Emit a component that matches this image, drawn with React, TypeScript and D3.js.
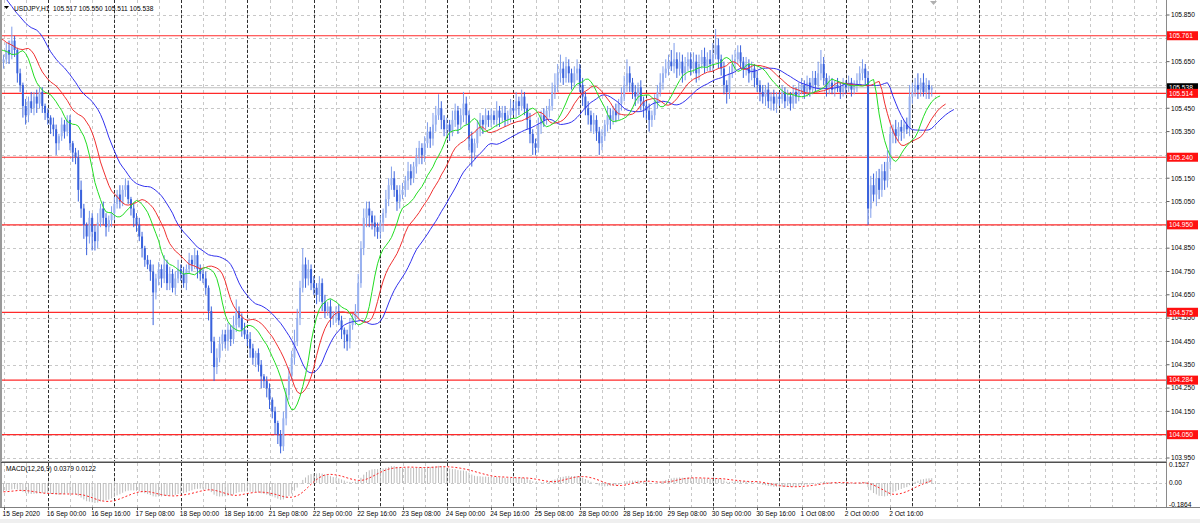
import React from 'react';
import * as d3 from 'd3';

// ---------------- DATA ----------------
const symbolHeader = 'USDJPY,H1  105.517 105.550 105.511 105.538';
const macdHeader = 'MACD(12,26,9) 0.0379 0.0122';
const lastPrice = 105.538;
const levels = [105.761, 105.514, 105.24, 104.95, 104.575, 104.284, 104.05];
const priceTicks = d3.range(0, 20).map((k) => +(105.85 - k * 0.1).toFixed(3));
const macdTicks = [0.1527, 0, -0.1864];
const macdTickLabels = ['0.1527', '0.00', '-0.1864'];
const timeLabels = [
  '15 Sep 2020', '16 Sep 00:00', '16 Sep 16:00', '17 Sep 08:00', '18 Sep 00:00',
  '18 Sep 16:00', '21 Sep 08:00', '22 Sep 00:00', '22 Sep 16:00', '23 Sep 08:00',
  '24 Sep 00:00', '24 Sep 16:00', '25 Sep 08:00', '28 Sep 00:00', '28 Sep 16:00',
  '29 Sep 08:00', '30 Sep 00:00', '30 Sep 16:00', '1 Oct 08:00', '2 Oct 00:00', '2 Oct 16:00',
];

// hidden history bars (left of the visible window)
const firstOpen = 105.76;
const preCloses = [105.74, 105.7, 105.72, 105.68, 105.66, 105.7, 105.67, 105.65];
const preUp = [2, 3, 2, 3, 2, 3, 2, 3];
const preDn = [3, 2, 3, 2, 3, 2, 3, 2];

// H1 closes, visible window (8 bars per row)
const closes = [
  105.66, 105.7, 105.68, 105.74, 105.7, 105.6, 105.55, 105.46,
  105.42, 105.48, 105.45, 105.5, 105.47, 105.52, 105.46, 105.43,
  105.41, 105.38, 105.36, 105.3, 105.33, 105.38, 105.35, 105.4,
  105.3, 105.26, 105.24, 105.1, 105.02, 104.95, 104.9, 104.98,
  104.92, 104.88, 104.96, 105.02, 104.98, 104.94, 104.97, 105.0,
  105.04, 105.08, 105.05, 105.1, 105.12, 105.06, 105.02, 104.98,
  104.95, 104.9, 104.85, 104.8, 104.78, 104.75, 104.66, 104.72,
  104.76, 104.72, 104.78, 104.7, 104.74, 104.68, 104.72, 104.76,
  104.74, 104.7, 104.76, 104.8, 104.78, 104.82, 104.76, 104.74,
  104.72, 104.68, 104.58, 104.45, 104.34, 104.38, 104.44, 104.48,
  104.45, 104.5, 104.46, 104.52, 104.58, 104.55, 104.5, 104.48,
  104.46, 104.42, 104.38, 104.4, 104.35, 104.3, 104.28, 104.25,
  104.2, 104.15, 104.1, 104.05, 104.0, 104.12, 104.22, 104.3,
  104.38, 104.45, 104.55, 104.68, 104.78, 104.72, 104.76, 104.7,
  104.68, 104.65, 104.7, 104.62, 104.58, 104.6, 104.55, 104.56,
  104.58, 104.54, 104.5, 104.48, 104.45, 104.52, 104.55, 104.58,
  104.7, 104.85, 104.98, 105.02, 104.99, 104.96, 104.94, 104.92,
  104.96, 105.0, 105.06, 105.12, 105.15, 105.1, 105.05, 105.08,
  105.1, 105.14, 105.18, 105.15, 105.2, 105.24, 105.28, 105.25,
  105.3, 105.35, 105.32, 105.38, 105.42, 105.45, 105.4, 105.36,
  105.38, 105.35, 105.4, 105.44, 105.38, 105.42, 105.47, 105.42,
  105.32, 105.26, 105.3, 105.36, 105.4, 105.38, 105.42, 105.4,
  105.42, 105.4, 105.44, 105.41, 105.43, 105.4, 105.42, 105.45,
  105.44, 105.48, 105.46, 105.5, 105.45, 105.4, 105.34, 105.3,
  105.28, 105.38, 105.42, 105.4, 105.44, 105.46, 105.52, 105.55,
  105.6, 105.62, 105.58, 105.63, 105.6, 105.56, 105.6, 105.62,
  105.55, 105.5, 105.45, 105.42, 105.38, 105.4, 105.35, 105.3,
  105.33, 105.38, 105.42, 105.4, 105.44, 105.42, 105.47, 105.5,
  105.55, 105.6, 105.56, 105.52, 105.5, 105.54, 105.48, 105.46,
  105.44, 105.4, 105.42, 105.48, 105.52, 105.56, 105.6, 105.62,
  105.65, 105.63, 105.66, 105.62, 105.65, 105.6, 105.63, 105.66,
  105.62, 105.65, 105.6, 105.64, 105.67, 105.63, 105.66, 105.64,
  105.68, 105.72, 105.66, 105.62, 105.55, 105.52, 105.6, 105.64,
  105.66, 105.69, 105.65, 105.62, 105.64, 105.6, 105.62, 105.58,
  105.55, 105.52, 105.5, 105.53, 105.48, 105.5, 105.47, 105.5,
  105.49, 105.52, 105.48, 105.5, 105.47, 105.52, 105.5, 105.53,
  105.55, 105.52, 105.56, 105.53, 105.58, 105.55, 105.6, 105.64,
  105.58, 105.54, 105.56, 105.53, 105.55, 105.54, 105.52, 105.55,
  105.54, 105.56, 105.53, 105.55, 105.57, 105.6, 105.62, 105.58,
  105.02, 105.12, 105.08, 105.15, 105.1, 105.18, 105.14, 105.22,
  105.34, 105.36, 105.33, 105.37, 105.35, 105.38, 105.36, 105.5,
  105.52, 105.55, 105.53, 105.56, 105.52, 105.55, 105.53, 105.538,
];
// wick extents beyond the body, in 0.01 units
const upWick = [
  2, 3, 4, 6, 2, 1, 2, 1, 3, 2, 4, 2, 3, 2, 2, 1, 2, 1, 3, 2, 1, 3, 2, 2,
  2, 1, 2, 3, 4, 2, 1, 3, 2, 3, 4, 2, 3, 2, 2, 3, 3, 2, 4, 2, 3, 2, 1, 2,
  2, 3, 2, 1, 2, 2, 3, 2, 3, 2, 4, 2, 3, 2, 3, 4, 2, 3, 2, 3, 2, 3, 2, 2,
  2, 3, 1, 2, 2, 4, 3, 2, 2, 3, 2, 4, 5, 2, 2, 3, 2, 3, 2, 1, 2, 2, 1, 2,
  2, 1, 2, 1, 2, 3, 3, 4, 3, 5, 4, 3, 7, 3, 4, 2, 3, 2, 3, 2, 3, 2, 3, 2,
  2, 3, 2, 1, 2, 3, 2, 3, 4, 3, 4, 3, 3, 2, 3, 2, 3, 2, 4, 3, 5, 3, 2, 4,
  3, 2, 4, 3, 2, 4, 3, 2, 3, 4, 2, 5, 4, 6, 3, 2, 3, 2, 4, 3, 2, 3, 5, 3,
  2, 3, 2, 4, 3, 2, 3, 2, 3, 2, 4, 2, 3, 3, 2, 4, 3, 4, 2, 3, 2, 2, 3, 2,
  2, 3, 2, 3, 2, 3, 4, 5, 4, 6, 3, 4, 3, 2, 3, 4, 2, 3, 2, 3, 2, 3, 2, 2,
  3, 2, 4, 3, 2, 3, 2, 4, 4, 6, 3, 2, 3, 2, 3, 2, 2, 3, 2, 3, 3, 4, 3, 4,
  3, 5, 7, 3, 4, 3, 4, 3, 3, 4, 3, 4, 3, 4, 3, 4, 5, 7, 3, 2, 3, 2, 3, 4,
  4, 3, 3, 2, 3, 2, 3, 2, 3, 2, 3, 2, 3, 2, 3, 2, 2, 3, 2, 3, 2, 3, 2, 3,
  3, 2, 3, 2, 3, 3, 5, 6, 3, 2, 3, 2, 2, 3, 2, 3, 2, 3, 2, 2, 3, 3, 4, 2,
  3, 4, 5, 3, 4, 3, 4, 5, 3, 2, 4, 2, 3, 2, 3, 5, 4, 3, 5, 2, 4, 3, 2, 1,
];
const dnWick = [
  3, 2, 4, 2, 3, 4, 3, 5, 4, 3, 2, 3, 4, 2, 3, 3, 3, 4, 3, 5, 3, 2, 3, 2,
  3, 4, 3, 5, 4, 6, 8, 3, 8, 4, 3, 2, 3, 4, 2, 3, 3, 2, 3, 2, 3, 2, 3, 4,
  3, 2, 4, 3, 2, 4, 14, 3, 3, 4, 2, 3, 3, 2, 3, 2, 3, 2, 3, 2, 3, 2, 4, 3,
  2, 3, 4, 5, 6, 3, 2, 3, 3, 4, 3, 2, 3, 4, 3, 2, 3, 4, 3, 4, 3, 5, 3, 4,
  4, 3, 5, 4, 3, 2, 3, 2, 2, 3, 2, 3, 2, 4, 3, 3, 3, 4, 3, 4, 3, 2, 4, 3,
  3, 2, 4, 6, 4, 3, 2, 3, 3, 2, 3, 4, 5, 3, 4, 3, 3, 4, 2, 3, 2, 3, 4, 3,
  2, 3, 4, 3, 2, 3, 3, 4, 3, 2, 4, 3, 3, 2, 4, 3, 3, 4, 2, 3, 4, 2, 3, 4,
  5, 6, 3, 2, 3, 4, 2, 3, 3, 2, 3, 4, 2, 3, 2, 3, 2, 3, 4, 2, 3, 4, 4, 5,
  3, 2, 4, 3, 2, 3, 2, 3, 3, 4, 3, 2, 4, 3, 2, 3, 3, 4, 3, 4, 3, 4, 4, 5,
  3, 2, 3, 4, 2, 3, 2, 3, 2, 3, 4, 3, 4, 3, 4, 5, 4, 5, 3, 2, 3, 2, 3, 2,
  3, 2, 3, 4, 3, 4, 3, 2, 3, 2, 4, 3, 2, 3, 2, 3, 3, 2, 4, 3, 4, 5, 3, 2,
  3, 2, 3, 4, 3, 4, 3, 4, 3, 4, 3, 4, 3, 4, 3, 4, 3, 2, 3, 2, 3, 2, 3, 2,
  2, 3, 2, 3, 2, 3, 2, 3, 3, 4, 3, 2, 3, 2, 3, 2, 3, 2, 3, 2, 3, 2, 3, 3,
  7, 4, 3, 5, 4, 3, 4, 3, 3, 4, 3, 2, 4, 3, 2, 3, 3, 2, 4, 3, 2, 3, 4, 3,
];

// indicator seeds (state before the first hidden bar)
const jawSeed = 105.95;
const teethSeed = 105.76;
const lipsSeed = 105.7;
const ema12Seed = 105.78;
const ema26Seed = 105.86;

// ---------------- LAYOUT ----------------
const W = 1200;
const H = 523;
const plotLeft = 1;
const axisX = 1166.5;
const mainTop = 0;
const mainBottom = 461;
const macdTop = 463;
const macdBottom = 507;
const font = '"Liberation Sans", Arial, sans-serif';
const fs = 6.6;

type Bar = { i: number; o: number; h: number; l: number; c: number };

function smma(vals: number[], n: number, seed: number) {
  let s = seed;
  return vals.map((v) => (s = (s * (n - 1) + v) / n));
}
function ema(vals: number[], n: number, seed: number) {
  const a = 2 / (n + 1);
  let e = seed;
  return vals.map((v) => (e = e + a * (v - e)));
}

export default function App() {
  const x = d3.scaleLinear().domain([0, 320]).range([3.5, 890.2]);
  const y = d3.scaleLinear().domain([103.95, 105.85]).range([458, 15]);
  const ym = d3.scaleLinear().domain([-0.1864, 0.1527]).range([505, 465]);

  const allC = [...preCloses, ...closes];
  const allU = [...preUp, ...upWick];
  const allD = [...preDn, ...dnWick];
  const N0 = preCloses.length;
  const bars: Bar[] = allC.map((c, k) => {
    const o = k === 0 ? firstOpen : allC[k - 1];
    return {
      i: k - N0,
      o,
      c,
      h: Math.max(o, c) + (allU[k] || 0) / 100,
      l: Math.min(o, c) - (allD[k] || 0) / 100,
    };
  });
  const med = bars.map((b) => (b.h + b.l) / 2);
  const jaw = smma(med, 13, jawSeed).map((v, k) => ({ i: bars[k].i + 8, v }));
  const teeth = smma(med, 8, teethSeed).map((v, k) => ({ i: bars[k].i + 5, v }));
  const lips = smma(med, 5, lipsSeed).map((v, k) => ({ i: bars[k].i + 3, v }));

  const e12 = ema(allC, 12, ema12Seed);
  const e26 = ema(allC, 26, ema26Seed);
  const macd = e12.map((v, k) => v - e26[k]);
  const signal = macd.map((_, k) => {
    const win: number[] = [];
    for (let j = k - 8; j <= k; j++) win.push(macd[Math.max(0, j)]);
    return d3.mean(win) as number;
  });
  const macdPts = bars.map((b, k) => ({ i: b.i, m: macd[k], s: signal[k] })).filter((p) => p.i >= 0);

  const line = d3
    .line<{ i: number; v: number }>()
    .x((d) => x(d.i))
    .y((d) => y(d.v));
  const sigLine = d3
    .line<{ i: number; s: number }>()
    .x((d) => x(d.i))
    .y((d) => ym(d.s));

  const grayIdx = d3.range(0, 53).map((k) => k * 8).filter((i) => x(i) < axisX - 1);
  const darkIdx = d3.range(0, 15).map((k) => 16 + k * 24);
  const labelIdx = timeLabels.map((_, k) => k * 16);
  const boxed = [...levels, lastPrice];
  const visibleTicks = priceTicks.filter((p) => boxed.every((b) => Math.abs(y(p) - y(b)) > 4));

  return (
    <svg
      width={W}
      height={H}
      viewBox={`0 0 ${W} ${H}`}
      style={{ position: 'absolute', left: 0, top: 0, background: '#fff' }}
      fontFamily={font}
    >
      <defs>
        <clipPath id="mainClip">
          <rect x={plotLeft + 1} y={mainTop} width={axisX - plotLeft - 1} height={mainBottom - mainTop} />
        </clipPath>
        <clipPath id="macdClip">
          <rect x={plotLeft + 1} y={macdTop} width={axisX - plotLeft - 1} height={macdBottom - macdTop} />
        </clipPath>
      </defs>
      <rect x={0} y={0} width={W} height={H} fill="#fff" />

      {/* grid */}
      <g>
        {priceTicks.map((p) => (
          <line key={'hg' + p} x1={plotLeft} x2={axisX} y1={Math.round(y(p)) + 0.5} y2={Math.round(y(p)) + 0.5}
            stroke="#c8c8c8" strokeDasharray="3,3" />
        ))}
        <line x1={plotLeft} x2={axisX} y1={Math.round(ym(0)) + 0.5} y2={Math.round(ym(0)) + 0.5}
          stroke="#c8c8c8" strokeDasharray="3,3" />
        {grayIdx.map((i) => (
          <g key={'vg' + i}>
            <line x1={Math.round(x(i)) + 0.5} x2={Math.round(x(i)) + 0.5} y1={mainTop} y2={mainBottom}
              stroke="#c8c8c8" strokeDasharray="3,3" />
            <line x1={Math.round(x(i)) + 0.5} x2={Math.round(x(i)) + 0.5} y1={macdTop} y2={macdBottom}
              stroke="#c8c8c8" strokeDasharray="3,3" />
          </g>
        ))}
        {darkIdx.map((i) => (
          <g key={'vd' + i}>
            <line x1={Math.round(x(i)) + 0.5} x2={Math.round(x(i)) + 0.5} y1={mainTop} y2={mainBottom}
              stroke="#303030" strokeDasharray="3,2" />
            <line x1={Math.round(x(i)) + 0.5} x2={Math.round(x(i)) + 0.5} y1={macdTop} y2={macdBottom}
              stroke="#303030" strokeDasharray="3,2" />
          </g>
        ))}
      </g>

      {/* main panel content */}
      <g clipPath="url(#mainClip)">
        <line x1={plotLeft} x2={axisX} y1={y(lastPrice)} y2={y(lastPrice)} stroke="#c0c0c0" strokeWidth={1} />
        {levels.map((lv) => (
          <line key={'lv' + lv} x1={plotLeft} x2={axisX} y1={y(lv)} y2={y(lv)} stroke="#ff2a2a" strokeWidth={1.2} />
        ))}
        {bars.map((b) => {
          const bull = b.c >= b.o;
          const col = bull ? '#98b1f0' : '#3a62dc';
          const cx = x(b.i);
          const top = y(Math.max(b.o, b.c));
          const bot = y(Math.min(b.o, b.c));
          return (
            <g key={'b' + b.i}>
              <line x1={cx} x2={cx} y1={y(b.h)} y2={y(b.l)} stroke={bull ? '#7f9deb' : '#3a62dc'} strokeWidth={1} />
              <rect x={cx - 1} y={top} width={2} height={Math.max(1, bot - top)} fill={col} />
            </g>
          );
        })}
        <path d={line(jaw) || ''} fill="none" stroke="#3232ee" strokeWidth={1} />
        <path d={line(teeth) || ''} fill="none" stroke="#f03030" strokeWidth={1} />
        <path d={line(lips) || ''} fill="none" stroke="#22dd22" strokeWidth={1} />
      </g>

      {/* macd panel */}
      <g clipPath="url(#macdClip)">
        {macdPts.map((p) => (
          <line key={'m' + p.i} x1={x(p.i)} x2={x(p.i)} y1={ym(0)} y2={ym(p.m)} stroke="#bcbcbc" strokeWidth={1} />
        ))}
        <path d={sigLine(macdPts) || ''} fill="none" stroke="#ff2020" strokeWidth={1} strokeDasharray="2,2" />
      </g>

      {/* frame */}
      <line x1={1} x2={1} y1={0} y2={macdBottom} stroke="#9a9a9a" strokeWidth={2} />
      <line x1={axisX} x2={axisX} y1={0} y2={macdBottom} stroke="#8a8a8a" strokeWidth={1} />
      <line x1={plotLeft} x2={axisX} y1={mainBottom + 0.5} y2={mainBottom + 0.5} stroke="#a8a8a8" />
      <line x1={plotLeft} x2={axisX} y1={mainBottom + 1.5} y2={mainBottom + 1.5} stroke="#505050" />
      <line x1={0} x2={W} y1={macdBottom + 0.5} y2={macdBottom + 0.5} stroke="#808080" />
      <rect x={0} y={519} width={W} height={4} fill="#efefef" />

      {/* price axis */}
      {priceTicks.map((p) => (
        <line key={'ptk' + p} x1={axisX} x2={axisX + 3} y1={y(p)} y2={y(p)} stroke="#606060" />
      ))}
      {visibleTicks.map((p) => (
        <text key={'pt' + p} x={1171} y={y(p)} dy="0.35em" fontSize={fs} fill="#000">
          {p.toFixed(3)}
        </text>
      ))}
      <g>
        <rect x={1167} y={y(lastPrice) - 4.5} width={31} height={9} fill="#000" />
        <text x={1169} y={y(lastPrice)} dy="0.35em" fontSize={fs} fill="#fff">
          {lastPrice.toFixed(3)}
        </text>
      </g>
      {levels.map((lv) => (
        <g key={'ll' + lv}>
          <rect x={1167} y={y(lv) - 4.5} width={31} height={9} fill="#ff1010" />
          <text x={1169} y={y(lv)} dy="0.35em" fontSize={fs} fill="#fff">
            {lv.toFixed(3)}
          </text>
        </g>
      ))}
      {macdTicks.map((v, k) => (
        <text key={'mt' + k} x={1169} y={ym(v)} dy="0.35em" fontSize={fs} fill="#000">
          {macdTickLabels[k]}
        </text>
      ))}

      {/* time axis */}
      {labelIdx.map((i, k) => (
        <g key={'tl' + i}>
          <line x1={Math.round(x(i)) + 0.5} x2={Math.round(x(i)) + 0.5} y1={macdBottom} y2={macdBottom + 3} stroke="#606060" />
          <text x={x(i) - 1} y={516} fontSize={fs} fill="#000">
            {timeLabels[k]}
          </text>
        </g>
      ))}

      {/* headers */}
      <path d="M4,6 L9,6 L6.5,9 Z" fill="#000" />
      <text x={14} y={10.5} fontSize={fs} fill="#000" style={{ whiteSpace: 'pre' }}>
        {symbolHeader}
      </text>
      <text x={6} y={471} fontSize={fs} fill="#000">
        {macdHeader}
      </text>
      <path d="M930,1 L937,1 L933.5,5 Z" fill="#b0b0b0" />
    </svg>
  );
}
